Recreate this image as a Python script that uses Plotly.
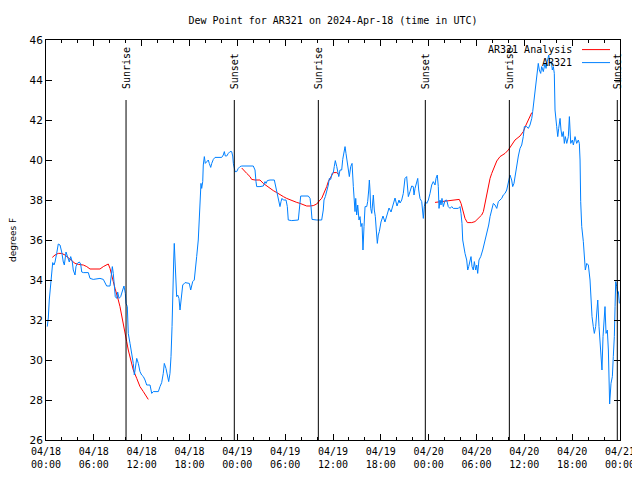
import pandas as pd
import plotly.graph_objects as go

BASE = pd.Timestamp("2024-04-18 00:00")

# AR321 observations: hours after 2024-04-18 00:00 UTC, dew point (F)
obs_hours = [0.16, 0.29, 0.41, 0.59, 0.72, 0.84, 1.00, 1.13, 1.34, 1.54, 1.76, 1.97, 2.17, 2.30, 2.51, 2.67,
             2.92, 3.10, 3.30, 3.42, 3.64, 3.76, 3.93, 4.18, 4.35, 4.48, 4.68, 5.31, 5.52, 5.93, 6.77, 7.19,
             7.40, 7.61, 8.03, 8.15, 8.32, 8.44, 8.53, 8.69, 8.87, 8.99, 9.16, 9.37, 9.62, 9.78, 9.95, 10.04,
             10.20, 10.25, 10.32, 10.54, 10.75, 10.95, 11.08, 11.25, 11.38, 11.58, 11.79, 12.00, 12.21, 12.42,
             12.63, 13.05, 13.26, 13.46, 14.09, 14.30, 14.51, 14.71, 14.84, 15.05, 15.22, 15.39, 15.55, 15.68,
             15.81, 15.93, 16.02, 16.09, 16.18, 16.27, 16.39, 16.52, 16.68, 16.81, 16.93, 17.15, 17.44, 17.98,
             18.15, 18.40, 18.60, 18.78, 18.90, 19.10, 19.23, 19.32, 19.44, 19.53, 19.66, 19.73, 19.86, 19.98,
             20.16, 20.36, 20.48, 20.66, 20.79, 20.99, 21.20, 22.04, 22.24, 22.37, 22.49, 22.67, 22.87, 23.08,
             23.29, 23.42, 23.50, 23.62, 23.71, 23.92, 24.12, 24.34, 24.55, 26.00, 26.22, 26.34, 26.43, 26.84,
             27.26, 27.47, 27.60, 27.76, 28.10, 28.64, 28.81, 28.94, 29.06, 29.19, 29.35, 29.48, 29.60, 29.77,
             30.11, 30.27, 30.39, 30.82, 31.65, 31.77, 31.95, 32.90, 33.12, 33.24, 33.37, 33.96, 34.58, 34.78,
             34.87, 35.04, 35.21, 35.41, 35.54, 35.71, 35.88, 36.04, 36.16, 36.29, 36.47, 36.59, 36.72, 36.88,
             37.09, 37.22, 37.38, 37.51, 37.63, 37.80, 38.05, 38.22, 38.39, 38.55, 38.64, 38.76, 38.85, 38.97,
             39.10, 39.26, 39.39, 39.51, 39.64, 39.76, 39.89, 40.02, 40.23, 40.35, 40.48, 40.56, 40.64, 40.73,
             40.86, 40.98, 41.06, 41.18, 41.31, 41.43, 41.56, 41.68, 41.81, 42.02, 42.27, 42.52, 42.77, 43.03,
             43.28, 43.53, 43.78, 44.03, 44.28, 44.41, 44.62, 44.82, 45.03, 45.24, 45.45, 45.66, 45.87, 46.07,
             46.16, 46.29, 46.50, 46.63, 46.75, 46.91, 47.13, 47.25, 47.33, 47.45, 47.58, 47.76, 47.96, 48.17,
             48.38, 48.58, 48.80, 48.92, 49.08, 49.21, 49.30, 49.42, 49.55, 49.67, 49.84, 50.05, 50.26, 50.46,
             50.68, 50.89, 51.09, 51.72, 51.93, 52.06, 52.18, 52.27, 52.43, 52.56, 52.77, 52.90, 53.02, 53.19,
             53.31, 53.44, 53.60, 53.73, 53.90, 54.03, 54.15, 54.31, 54.53, 54.78, 54.94, 55.19, 55.36, 55.53,
             55.70, 55.91, 56.11, 56.32, 56.54, 56.74, 56.95, 57.16, 57.36, 57.58, 57.79, 57.99, 58.20, 58.41,
             58.54, 58.70, 58.87, 59.04, 59.25, 59.46, 59.67, 59.87, 60.00, 60.30, 60.50, 60.71, 60.93, 61.05,
             61.21, 61.34, 61.46, 61.63, 61.75, 61.88, 62.05, 62.18, 62.38, 62.59, 62.72, 62.88, 63.06, 63.22,
             63.39, 63.51, 63.64, 63.76, 63.85, 64.06, 64.19, 64.31, 64.48, 64.60, 64.73, 64.89, 65.02, 65.14,
             65.32, 65.52, 65.65, 65.82, 66.02, 66.15, 66.36, 66.57, 66.77, 66.90, 66.99, 67.07, 67.20, 67.40,
             67.53, 67.65, 67.83, 68.03, 68.24, 68.36, 68.49, 68.65, 68.78, 68.95, 69.08, 69.21, 69.37, 69.49,
             69.62, 69.74, 69.87, 70.00, 70.12, 70.25, 70.41, 70.54, 70.62, 70.70, 70.87, 71.04, 71.16, 71.29,
             71.38, 71.46, 71.59, 71.71, 71.79, 71.92]
obs_values = [31.67, 32.1, 33.0, 33.9, 34.5, 34.87, 34.75, 34.9, 35.33, 35.8, 35.75, 35.4, 34.9, 34.75, 35.4, 35.17,
              34.9, 35.17, 34.9, 34.5, 34.25, 34.67, 34.83, 34.9, 34.8, 34.4, 34.37, 34.37, 34.08, 34.03, 34.08, 34.03,
              33.87, 33.7, 33.7, 34.25, 34.67, 34.33, 33.67, 33.17, 33.08, 33.4, 33.08, 33.17, 33.5, 33.7, 33.33, 32.83,
              32.67, 32.0, 31.33, 30.83, 30.33, 29.83, 29.25, 29.67, 30.08, 29.83, 29.42, 29.25, 29.17, 29.0,
              28.75, 28.75, 28.33, 28.42, 28.42, 28.67, 28.87, 29.33, 29.83, 29.58, 29.17, 28.92, 29.33, 30.17,
              31.67, 34.5, 35.0, 35.83, 35.0, 34.0, 33.17, 33.25, 33.08, 32.5, 33.0, 33.75, 33.87, 33.83,
              33.5, 33.92, 34.0, 34.58, 35.17, 36.0, 37.03, 38.25, 38.83, 38.58, 38.92, 39.75, 40.17, 39.83,
              39.92, 40.0, 39.83, 39.63, 39.83, 40.03, 40.13, 40.13, 40.25, 40.42, 40.2, 40.2, 40.33, 40.42,
              40.42, 40.2, 39.83, 39.67, 39.42, 39.42, 39.58, 39.67, 39.7, 39.7, 39.5, 38.92, 38.67, 38.67,
              38.7, 38.92, 38.83, 38.97, 39.0, 39.0, 38.67, 38.42, 38.25, 37.92, 37.67, 37.92, 38.08, 38.0,
              38.0, 37.67, 37.0, 36.97, 37.0, 37.5, 38.2, 38.2, 38.08, 37.67, 37.03, 37.0, 37.0, 37.5,
              38.0, 38.17, 38.42, 38.75, 39.08, 39.03, 39.33, 39.37, 39.67, 39.97, 39.67, 39.42, 39.17, 39.5,
              39.5, 40.03, 40.5, 40.67, 40.33, 39.92, 39.17, 39.67, 39.83, 38.67, 37.83, 37.42, 38.08, 37.25,
              37.75, 37.0, 37.17, 36.67, 36.83, 35.5, 36.67, 37.67, 37.67, 37.92, 38.5, 39.0, 38.5, 37.58,
              37.33, 38.0, 38.25, 37.5, 37.17, 36.5, 35.83, 36.25, 36.42, 36.9, 37.2, 36.9, 37.3, 37.6,
              37.4, 37.8, 38.1, 37.7, 38.0, 37.85, 38.0, 38.33, 39.08, 39.17, 38.17, 38.42, 38.7, 38.67,
              38.25, 38.58, 38.83, 39.08, 38.5, 38.08, 37.92, 37.33, 37.08, 37.67, 37.92, 37.83, 38.0, 38.33,
              38.75, 38.92, 38.75, 39.08, 39.25, 38.67, 37.58, 38.0, 37.75, 38.08, 37.67, 37.97, 38.0, 37.67,
              37.58, 37.67, 37.58, 37.58, 37.67, 37.33, 36.83, 36.0, 35.5, 35.33, 35.0, 34.5, 34.67, 35.0,
              35.17, 34.67, 34.5, 34.92, 34.5, 34.75, 34.33, 35.0, 35.17, 35.5, 35.75, 36.08, 36.42, 36.75,
              37.17, 37.58, 37.83, 37.75, 37.58, 37.92, 38.0, 38.08, 38.25, 38.33, 38.5, 38.83, 39.25, 39.0,
              38.67, 38.83, 39.25, 39.83, 40.2, 40.58, 40.75, 41.17, 41.67, 41.67, 41.58, 41.75, 42.08, 42.42,
              43.0, 43.42, 44.0, 44.42, 44.83, 44.5, 44.33, 44.67, 44.42, 44.83, 44.58, 44.92, 45.25, 44.83,
              44.92, 44.5, 44.67, 44.33, 42.5, 41.67, 41.17, 41.58, 42.08, 41.5, 41.17, 41.42, 40.83, 41.17,
              40.83, 41.17, 42.17, 40.83, 41.0, 40.75, 41.17, 40.83, 41.0, 40.83, 40.0, 37.92, 36.67, 35.92,
              35.0, 34.5, 34.83, 34.75, 34.0, 32.83, 32.17, 31.67, 31.33, 31.67, 32.5, 33.0, 31.67, 31.0,
              30.0, 29.5, 31.17, 32.33, 32.67, 31.33, 31.5, 30.5, 28.83, 27.8, 28.83, 29.17, 30.17, 31.17,
              32.67, 33.92, 33.67, 33.33, 33.42, 32.83]

# AR321 Analysis (three segments, gaps between them)
ana_hours = [0.79, 1.13, 1.54, 1.97, 2.38, 2.80, 3.22, 3.64, 4.05, 4.68, 5.11, 5.52, 6.77, 7.19, 7.61, 7.81,
             8.03, 8.24, 8.44, 8.66, 8.87, 9.07, 9.28, 9.50, 9.70, 9.91, 10.12, 10.32, 10.54, 10.75, 10.95,
             11.38, 11.79, 12.21, 12.63, 12.83,
             None,
             24.55, 24.75, 25.18, 25.59, 25.80, 26.22, 26.84, 27.26, 27.69, 28.10, 28.51, 28.94, 29.35, 29.77,
             30.19, 30.61, 31.02, 31.45, 31.86, 32.28, 32.70, 33.12, 33.53, 33.96, 34.16, 34.37, 34.58, 34.78,
             35.00, 35.21, 35.41, 35.63, 35.84, 36.04, 36.47, 36.79,
             None,
             48.80, 50.26, 51.84, 52.06, 52.27, 52.56, 52.85, 53.40, 53.81, 54.23, 54.65, 54.86, 55.07, 55.28,
             55.48, 55.70, 55.91, 56.32, 56.54, 56.95, 57.58, 57.99, 58.41, 58.83, 59.46, 59.87, 60.21, 60.50,
             60.80, 60.93]
ana_values = [35.13, 35.25, 35.33, 35.33, 35.25, 35.13, 34.97, 34.83, 34.78, 34.75, 34.67, 34.55, 34.55, 34.67, 34.78, 34.8,
              34.58, 34.17, 33.92, 33.58, 33.33, 33.0, 32.67, 32.17, 31.67, 31.25, 30.92, 30.5, 30.17, 29.83, 29.5,
              29.08, 28.67, 28.42, 28.17, 28.03,
              None,
              39.6, 39.53, 39.33, 39.17, 39.03, 39.0, 39.0, 38.83, 38.7, 38.58, 38.47, 38.37, 38.25, 38.17,
              38.08, 38.0, 37.95, 37.88, 37.83, 37.75, 37.7, 37.7, 37.72, 37.8, 37.92, 38.0, 38.08, 38.25,
              38.42, 38.67, 38.92, 39.08, 39.25, 39.37, 39.37, 39.25,
              None,
              37.88, 37.97, 38.03, 37.83, 37.5, 37.08, 36.87, 36.87, 36.92, 37.08, 37.25, 37.42, 37.83, 38.33,
              38.67, 39.08, 39.33, 39.75, 39.95, 40.17, 40.33, 40.5, 40.75, 41.0, 41.2, 41.42, 41.75, 42.0,
              42.25, 42.37]

event_labels = ["Sunrise", "Sunset", "Sunrise", "Sunset", "Sunrise", "Sunset"]
event_hours = [10.04, 23.62, 34.16, 47.58, 58.12, 71.66]
event_top = 43.0
label_base = 43.45

y_ticks = [26, 28, 30, 32, 34, 36, 38, 40, 42, 44, 46]


def to_time(hours):
    return [None if h is None else BASE + pd.Timedelta(hours=h) for h in hours]


RED = "#ff0000"
BLUE = "#0080ff"
MONO = "DejaVu Sans Mono"

fig = go.Figure()
fig.add_trace(go.Scatter(x=to_time(ana_hours), y=ana_values, mode="lines", name="AR321 Analysis",
                         line=dict(color=RED, width=1), connectgaps=False, showlegend=False))
fig.add_trace(go.Scatter(x=to_time(obs_hours), y=obs_values, mode="lines", name="AR321",
                         line=dict(color=BLUE, width=1), showlegend=False))

for lab, h in zip(event_labels, event_hours):
    t = BASE + pd.Timedelta(hours=h)
    fig.add_shape(type="line", xref="x", yref="y", x0=t, x1=t, y0=26, y1=event_top,
                  line=dict(color="black", width=1))
    fig.add_annotation(x=t, y=label_base, xref="x", yref="y", text=lab, textangle=-90,
                       showarrow=False, xanchor="center", yanchor="bottom",
                       font=dict(family=MONO, size=10, color="black"))

# legend drawn gnuplot-style (text then line sample)
for i, (name, col) in enumerate([("AR321 Analysis", RED), ("AR321", BLUE)]):
    yp = 0.976 - i * 0.0325
    fig.add_annotation(x=0.9199, y=yp, xref="paper", yref="paper", text=name, showarrow=False,
                       xanchor="right", yanchor="middle", font=dict(family=MONO, size=10, color="black"))
    fig.add_shape(type="line", xref="paper", yref="paper", x0=0.9338, x1=0.9826, y0=yp, y1=yp,
                  line=dict(color=col, width=1))

fig.add_annotation(x=0, y=0.5, xref="paper", yref="paper", xshift=-33, text="degrees F", textangle=-90,
                   showarrow=False, xanchor="center", yanchor="middle",
                   font=dict(family="DejaVu Sans", size=9, color="black"))

# page body has an 8px margin; compensate so the plot box lands at x 46..620, y 40..440
fig.update_layout(
    width=640, height=480,
    margin=dict(l=38, r=28, t=32, b=48, autoexpand=False),
    paper_bgcolor="white", plot_bgcolor="white",
    title=dict(text="Dew Point for AR321 on 2024-Apr-18 (time in UTC)", x=0.5, xref="paper",
               y=1 - 12 / 480, yanchor="middle", xanchor="center",
               font=dict(family=MONO, size=10, color="black")),
    showlegend=False,
)
fig.update_xaxes(
    type="date", range=[BASE, BASE + pd.Timedelta(hours=72)], automargin=False,
    tickformat="%m/%d<br>%H:%M", dtick=6 * 3600 * 1000, tick0=BASE,
    ticks="inside", ticklen=6, tickcolor="black", tickwidth=1, ticklabelstandoff=2,
    minor=dict(dtick=2 * 3600 * 1000, ticks="inside", ticklen=3, tickcolor="black", showgrid=False),
    showline=True, linecolor="black", linewidth=1, mirror="ticks",
    showgrid=False, zeroline=False,
    tickfont=dict(family=MONO, size=10, color="black"),
)
fig.update_yaxes(
    range=[26, 46], tickvals=y_ticks, ticktext=[str(v) for v in y_ticks], automargin=False,
    ticks="inside", ticklen=6, tickcolor="black", tickwidth=1,
    showline=True, linecolor="black", linewidth=1, mirror="ticks",
    showgrid=False, zeroline=False,
    tickfont=dict(family="DejaVu Sans", size=10.5, color="black"),
)

fig.write_html("out.html")
